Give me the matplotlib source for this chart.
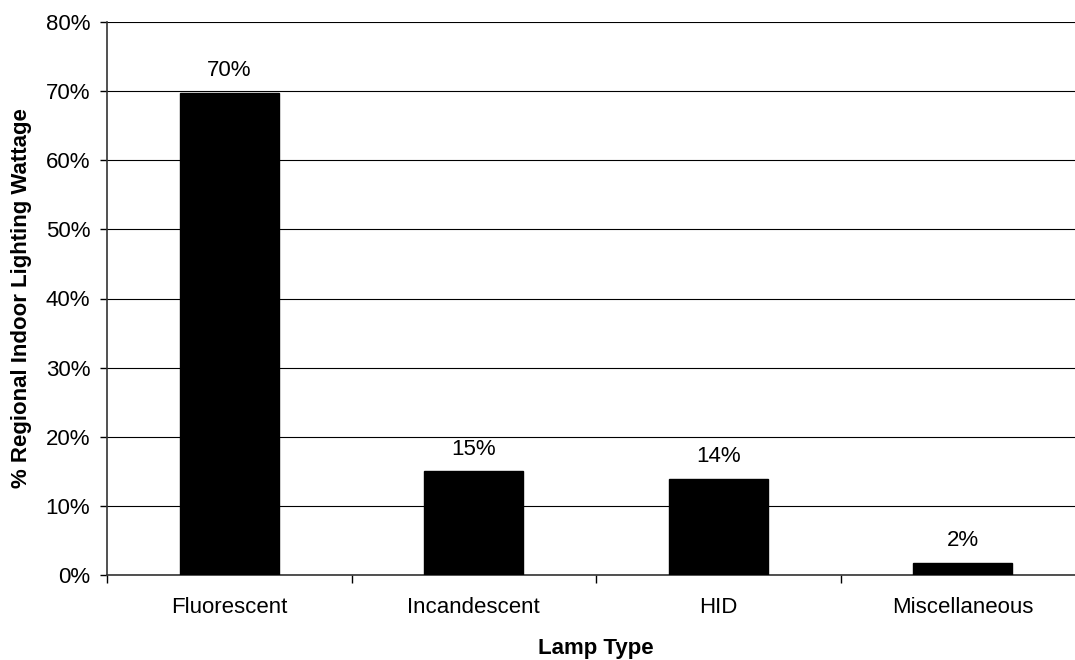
import numpy as np
import matplotlib.pyplot as plt
from matplotlib.ticker import FixedLocator, PercentFormatter

plt.rcParams['font.family'] = ['Liberation Sans', 'DejaVu Sans']

categories = ['Fluorescent', 'Incandescent', 'HID', 'Miscellaneous']
values = [69.8, 15.0, 13.9, 1.7]
labels = ['70%', '15%', '14%', '2%']

fig = plt.figure(figsize=(10.75, 6.6), dpi=100)
# axes runs a little past the right edge of the picture, like the original crop
ax = fig.add_axes([107 / 1075, 85 / 660, 978 / 1075, 553 / 660])

x = np.arange(len(categories))
ax.bar(x, values, width=0.405, color='black', edgecolor='black', zorder=3)
for xi, v, lab in zip(x, values, labels):
    ax.text(xi, v + 1.7, lab, ha='center', va='bottom', fontsize=16)

ax.set_xlim(-0.5, len(categories) - 0.5)
ax.set_ylim(0, 80)
ax.set_yticks(np.arange(0, 81, 10))
ax.yaxis.set_major_formatter(PercentFormatter(decimals=0))
ax.yaxis.grid(True, color='black', linewidth=0.8, zorder=0)
ax.tick_params(axis='y', labelsize=16, length=5, width=1, direction='out', pad=7)

ax.set_xticks(x)
ax.set_xticklabels(categories)
ax.tick_params(axis='x', which='major', length=0, labelsize=16, pad=16)
ax.xaxis.set_minor_locator(FixedLocator(np.arange(-0.5, len(categories), 1.0)))
ax.tick_params(axis='x', which='minor', length=6, width=1, direction='out')

for side in ['top', 'right']:
    ax.spines[side].set_visible(False)
ax.spines['left'].set_color('#333333')
ax.spines['bottom'].set_color('#333333')
ax.spines['left'].set_linewidth(1.2)
ax.spines['bottom'].set_linewidth(1.2)

ax.set_xlabel('Lamp Type', fontsize=16, fontweight='bold', labelpad=14)
ax.set_ylabel('% Regional Indoor Lighting Wattage', fontsize=16, fontweight='bold', labelpad=10)

fig.savefig('out.png', dpi=100)
